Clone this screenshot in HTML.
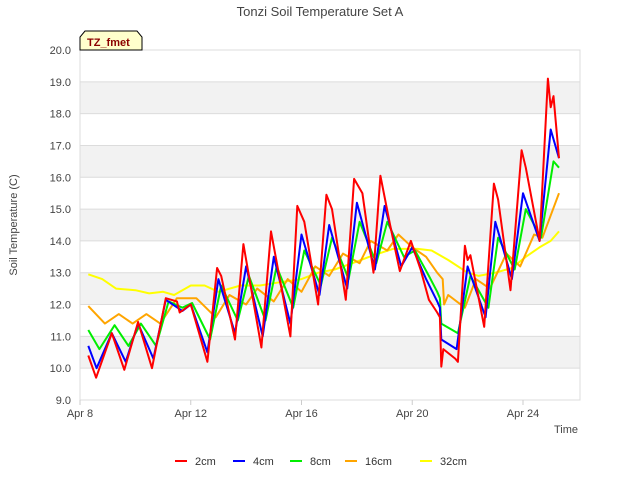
<!DOCTYPE html>
<html><head><meta charset="utf-8"><style>
body{margin:0;background:#fff;font-family:"Liberation Sans",sans-serif;}
svg text{font-family:"Liberation Sans",sans-serif;}
</style></head><body>
<svg id="chart" width="640" height="480" xmlns="http://www.w3.org/2000/svg">
<rect x="0" y="0" width="640" height="480" fill="#fff"/>
<text x="320" y="16" text-anchor="middle" font-size="13" fill="#444">Tonzi Soil Temperature Set A</text>
<g id="grid"></g>
<g id="series"></g>
<g id="axes"></g>
<text transform="translate(17,225) rotate(-90)" text-anchor="middle" font-size="11" fill="#444">Soil Temperature (C)</text>
<text x="578" y="433" text-anchor="end" font-size="11" fill="#444">Time</text>
<g>
<polygon points="80,50 80,37 85,31 137,31 142,37 142,50" fill="#ffffcc" stroke="#000" stroke-width="1"/>
<text x="87" y="46" font-size="11" font-weight="bold" fill="#8b0000">TZ_fmet</text>
</g>
<g id="legend"></g>
</svg>
<script>
const yTicks=[9,10,11,12,13,14,15,16,17,18,19,20];
const xTickDays=[0,4,8,12,16];
const xTickLabels=["Apr 8","Apr 12","Apr 16","Apr 20","Apr 24"];
const seriesNames=["2cm","4cm","8cm","16cm","32cm"];
const t2=[0.3,0.58,1.15,1.6,2.1,2.6,3.1,3.5,3.6,4.0,4.6,4.95,5.1,5.6,5.9,6.55,6.9,7.6,7.85,8.1,8.6,8.9,9.1,9.6,9.9,10.2,10.6,10.85,11.2,11.55,11.95,12.3,12.6,12.9,13.0,13.05,13.12,13.55,13.65,13.9,14.0,14.1,14.6,14.95,15.1,15.55,15.95,16.1,16.6,16.9,17.0,17.1,17.3];
const v2=[10.4,9.7,11.1,9.95,11.45,10.0,12.2,12.1,11.75,12.0,10.2,13.15,12.9,10.9,13.9,10.65,14.3,11.0,15.1,14.6,12.0,15.45,15.0,12.15,15.95,15.5,13.0,16.05,14.5,13.05,14.0,13.1,12.15,11.75,11.6,10.05,10.6,10.3,10.2,13.85,13.4,13.55,11.3,15.8,15.3,12.45,16.85,16.3,14.0,19.1,18.2,18.55,16.6];
const t4=[0.3,0.6,1.15,1.65,2.1,2.65,3.1,3.7,4.0,4.6,5.0,5.6,6.0,6.6,7.0,7.6,8.0,8.65,9.0,9.65,10.0,10.65,11.0,11.6,12.0,12.5,12.9,13.0,13.05,13.6,14.0,14.65,15.0,15.6,16.0,16.6,17.0,17.3];
const v4=[10.7,10.0,11.1,10.2,11.4,10.3,12.15,11.8,12.0,10.5,12.8,11.1,13.2,11.0,13.5,11.4,14.2,12.3,14.5,12.5,15.2,13.1,15.1,13.2,13.8,12.8,12.1,11.9,10.9,10.6,13.2,11.6,14.6,12.8,15.5,14.0,17.5,16.6];
const t8=[0.3,0.7,1.25,1.75,2.2,2.75,3.2,3.7,4.05,4.7,5.1,5.7,6.1,6.7,7.1,7.7,8.1,8.7,9.1,9.7,10.1,10.7,11.1,11.7,12.1,12.6,12.9,13.0,13.05,13.65,14.1,14.75,15.1,15.7,16.1,16.65,17.1,17.3];
const v8=[11.2,10.6,11.35,10.7,11.4,10.7,12.1,11.9,12.05,10.9,12.6,11.5,12.9,11.5,13.2,11.9,13.7,12.6,14.1,12.8,14.6,13.3,14.6,13.5,13.7,12.9,12.4,12.2,11.4,11.1,12.9,11.9,14.1,13.1,15.0,14.1,16.5,16.3];
const t16=[0.3,0.9,1.4,1.9,2.4,2.9,3.5,4.2,4.9,5.4,6.0,6.4,7.0,7.5,8.0,8.5,9.0,9.5,10.1,10.5,11.1,11.5,12.0,12.5,12.9,13.1,13.15,13.3,13.9,14.3,14.8,15.4,15.9,16.4,16.7,17.3];
const v16=[11.95,11.4,11.7,11.4,11.7,11.4,12.2,12.2,11.6,12.3,12.0,12.5,12.1,12.8,12.4,13.2,12.9,13.6,13.3,14.0,13.7,14.2,13.8,13.5,13.0,12.8,12.0,12.3,11.9,12.8,12.5,13.6,13.2,14.2,14.1,15.5];
const t32=[0.3,0.8,1.3,2.0,2.5,3.0,3.4,4.0,4.5,5.0,5.8,6.5,7.2,8.0,8.6,9.2,10.0,10.6,11.3,12.2,12.7,13.3,14.0,14.4,15.0,15.6,16.1,16.6,17.0,17.3];
const v32=[12.95,12.8,12.5,12.45,12.35,12.4,12.3,12.6,12.6,12.4,12.6,12.6,12.7,12.8,13.0,13.1,13.35,13.55,13.75,13.75,13.7,13.4,13.0,12.9,13.0,13.15,13.5,13.8,14.0,14.3];

const NS="http://www.w3.org/2000/svg";
const L=80,R=580,T=50,B=400;
const X=d=>L+d*(443/16);
const Y=v=>B-(v-9)*(B-T)/11;
function mk(tag,attrs,parent){const e=document.createElementNS(NS,tag);for(const k in attrs)e.setAttribute(k,attrs[k]);parent.appendChild(e);return e;}
const grid=document.getElementById('grid');
for(let i=0;i<yTicks.length-1;i++){
  if(yTicks[i]%2===0){
    const b=mk('rect',{x:L,y:Y(yTicks[i]+1),width:R-L,height:Y(yTicks[i])-Y(yTicks[i]+1),fill:'#f2f2f2'},grid);
    
    
  }
}
yTicks.forEach(v=>{
  const l=mk('line',{x1:L,x2:R,y1:Y(v),y2:Y(v),stroke:'#dcdcdc','stroke-width':1},grid);
  
  
});
const axes=document.getElementById('axes');
mk('rect',{x:L,y:T,width:R-L,height:B-T,fill:'none',stroke:'#dcdcdc'},axes);
yTicks.forEach(v=>{
  const t=mk('text',{x:L-9,y:Y(v)+4,'text-anchor':'end','font-size':11,fill:'#444'},axes);
  t.textContent=v.toFixed(1);
  
  
});
xTickDays.forEach((d,i)=>{
  mk('line',{x1:X(d),x2:X(d),y1:B,y2:B+5,stroke:'#ccc'},axes);
  const t=mk('text',{x:X(d),y:B+17,'text-anchor':'middle','font-size':11,fill:'#444'},axes);
  t.textContent=xTickLabels[i];
  
  
});
const colors=['#ff0000','#0000ff','#00ee00','#ffa500','#ffff00'];
const ts=[t2,t4,t8,t16,t32],vs=[v2,v4,v8,v16,v32];
const sg=document.getElementById('series');
for(let s=4;s>=0;s--){
  const d=ts[s].map((t,i)=>(i?'L':'M')+X(t).toFixed(1)+','+Y(vs[s][i]).toFixed(1)).join(' ');
  const p=mk('path',{d:d,fill:'none',stroke:colors[s],'stroke-width':2,'stroke-linejoin':'round'},sg);
  
  
}
const lg=document.getElementById('legend');
const lx=[175,233,290,345,420];
seriesNames.forEach((n,i)=>{
  const g=mk('g',{},lg);
  
  
  mk('line',{x1:lx[i],x2:lx[i]+12,y1:461,y2:461,stroke:colors[i],'stroke-width':2},g);
  const t=mk('text',{x:lx[i]+20,y:465,'font-size':11,fill:'#333'},g);
  t.textContent=n;
});
</script>
</body></html>
